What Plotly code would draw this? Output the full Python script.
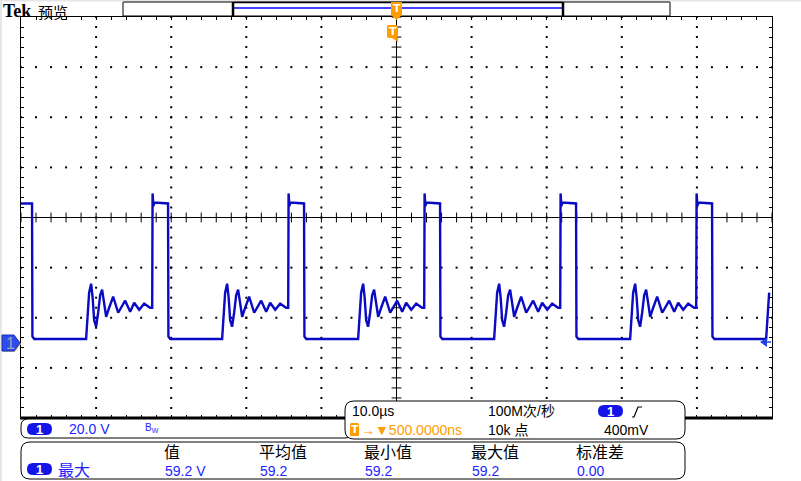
import plotly.graph_objects as go

# ---------------- data (read from the screen) ----------------
# falling-edge times of the square wave (µs, screen centre = 0)
fall_times = [-48.53, -30.42, -12.31, 5.80, 23.91, 42.02]
# one cycle, relative to its falling edge: time (µs) and voltage (V)
cycle_t = [0.00, 0.05, 0.3, 7.20, 7.40, 7.60, 7.87, 8.07, 8.27, 8.53, 8.80, 9.07,
           9.33, 9.60, 9.87, 10.27, 10.80, 11.47, 12.40, 13.07, 13.60, 14.27,
           14.93, 15.73, 16.00, 16.05, 16.15, 16.30, 18.05]
cycle_v = [55.6, 2.5, 1.5, 1.5, 10.0, 20.0, 23.6, 18.0, 9.0, 6.4, 12.0, 19.0,
           21.2, 15.0, 10.4, 14.0, 18.4, 12.0, 16.8, 12.4, 16.0, 13.2,
           15.6, 14.0, 14.0, 59.6, 54.5, 56.0, 55.6]
lead_t = [-50.0]          # trace start before first edge
lead_v = [55.6]
trace_end = 49.85

x_range = [-50, 50]       # 10 div x 10 µs
y_range = [-30, 130]      # 8 div x 20 V, ground 2.5 div below centre
x_div, y_div = 10, 20

hdr_labels = ["值", "平均值", "最小值", "最大值", "标准差"]
row_values = ["59.2 V", "59.2", "59.2", "59.2", "0.00"]
col_x = [163, 258, 363, 470, 575]

# ---------------- build waveform ----------------
wt, wv = list(lead_t), list(lead_v)
for f in fall_times:
    for t, v in zip(cycle_t, cycle_v):
        if f + t <= trace_end:
            wt.append(f + t)
            wv.append(v)

W, H = 801, 481
L, R, T, B = 21, 772, 17, 418


def px(x):
    return (x - L) / (R - L)


def py(y):
    return (B - y) / (B - T)


def rrect_path(x0, y0, x1, y1, r):
    return (f"M {px(x0+r)},{py(y0)} L {px(x1-r)},{py(y0)} Q {px(x1)},{py(y0)} {px(x1)},{py(y0+r)} "
            f"L {px(x1)},{py(y1-r)} Q {px(x1)},{py(y1)} {px(x1-r)},{py(y1)} "
            f"L {px(x0+r)},{py(y1)} Q {px(x0)},{py(y1)} {px(x0)},{py(y1-r)} "
            f"L {px(x0)},{py(y0+r)} Q {px(x0)},{py(y0)} {px(x0+r)},{py(y0)} Z")


def poly_path(pts, close=True):
    s = "M " + " L ".join(f"{px(a)},{py(b)}" for a, b in pts)
    return s + (" Z" if close else "")


fig = go.Figure()

# graticule dots
gx, gy = [], []
minor_x = [x_range[0] + i * x_div / 5 for i in range(51)]
minor_y = [y_range[0] + i * y_div / 5 for i in range(41)]
major_x = [x_range[0] + i * x_div for i in range(1, 10)]
major_y = [y_range[0] + i * y_div for i in range(1, 8)]
cx, cy = 0, 50
for xm in major_x:
    if xm == cx:
        continue
    for ym in minor_y:
        gx.append(xm); gy.append(ym)
for ym in major_y:
    if ym == cy:
        continue
    for xm in minor_x:
        gx.append(xm); gy.append(ym)
fig.add_trace(go.Scatter(x=gx, y=gy, mode="markers", hoverinfo="skip",
                         marker=dict(symbol="square", size=2, color="#000", line=dict(width=0))))
# centre cross ticks
fig.add_trace(go.Scatter(x=minor_x, y=[cy] * len(minor_x), mode="markers", hoverinfo="skip",
                         marker=dict(symbol="line-ns", size=7, line=dict(width=1, color="#000"))))
fig.add_trace(go.Scatter(x=[cx] * len(minor_y), y=minor_y, mode="markers", hoverinfo="skip",
                         marker=dict(symbol="line-ew", size=7, line=dict(width=1, color="#000"))))

# waveform
fig.add_trace(go.Scatter(x=wt, y=wv, mode="lines", hoverinfo="skip",
                         line=dict(color="#0a0ac4", width=2.4)))

shapes = []
# centre cross lines
shapes.append(dict(type="line", xref="x", yref="paper", x0=cx, x1=cx, y0=0, y1=1,
                   line=dict(color="#000", width=1), layer="below"))
shapes.append(dict(type="line", xref="paper", yref="y", x0=0, x1=1, y0=cy, y1=cy,
                   line=dict(color="#000", width=1), layer="below"))
# thick bottom border
shapes.append(dict(type="line", xref="paper", yref="paper", x0=px(L - 1), x1=px(R + 1), y0=py(B), y1=py(B),
                   line=dict(color="#000", width=3)))
# left & top grey strips
shapes.append(dict(type="rect", xref="paper", yref="paper", x0=px(0), x1=px(2), y0=py(0), y1=py(H),
                   fillcolor="#e6e6e6", line=dict(width=0)))
shapes.append(dict(type="rect", xref="paper", yref="paper", x0=px(0), x1=px(W), y0=py(0), y1=py(1.5),
                   fillcolor="#e6e6e6", line=dict(width=0)))
# record view box
shapes.append(dict(type="rect", xref="paper", yref="paper", x0=px(123), x1=px(670), y0=py(16), y1=py(2),
                   fillcolor="#fff", line=dict(color="#000", width=1)))
shapes.append(dict(type="line", xref="paper", yref="paper", x0=px(123), x1=px(670), y0=py(2), y1=py(2),
                   line=dict(color="#7a7a7a", width=1.5)))
shapes.append(dict(type="line", xref="paper", yref="paper", x0=px(233), x1=px(563), y0=py(8), y1=py(8),
                   line=dict(color="#0000ff", width=1.5)))
for bx in (233, 563):
    shapes.append(dict(type="line", xref="paper", yref="paper", x0=px(bx), x1=px(bx), y0=py(2), y1=py(16),
                       line=dict(color="#000", width=2.5)))
shapes.append(dict(type="line", xref="paper", yref="paper", x0=px(233), x1=px(563), y0=py(2.5), y1=py(2.5),
                   line=dict(color="#000", width=1.5)))
# trigger markers (orange)
OR = "#ff9c00"
shapes.append(dict(type="path", xref="paper", yref="paper",
                   path=poly_path([(391, 2), (402, 2), (402, 15), (396.5, 20), (391, 15)]),
                   fillcolor=OR, line=dict(width=0)))
shapes.append(dict(type="path", xref="paper", yref="paper", path=rrect_path(387, 25, 398, 38, 2),
                   fillcolor=OR, line=dict(width=0)))
shapes.append(dict(type="path", xref="paper", yref="paper",
                   path=poly_path([(392, 38), (398, 38), (398, 42)]), fillcolor=OR, line=dict(width=0)))
# ground marker on the left
shapes.append(dict(type="path", xref="paper", yref="paper",
                   path=poly_path([(3, 336), (15, 336), (21, 344), (15, 352), (3, 352)]),
                   fillcolor="#d2c890", line=dict(width=0)))
shapes.append(dict(type="path", xref="paper", yref="paper",
                   path=poly_path([(2, 335), (14, 335), (20, 343), (14, 351), (2, 351)]),
                   fillcolor="#2c4cf0", line=dict(color="#1830b0", width=1)))
# right-side little arrow
shapes.append(dict(type="path", xref="paper", yref="paper",
                   path=poly_path([(760, 342), (767, 338), (767, 347)]),
                   fillcolor="#2040e0", line=dict(width=0)))
shapes.append(dict(type="line", xref="paper", yref="paper", x0=px(764), x1=px(771), y0=py(342), y1=py(342),
                   line=dict(color="#2040e0", width=1.5)))

# info panels
shapes.append(dict(type="path", xref="paper", yref="paper", path=rrect_path(21, 419, 352, 438, 7),
                   fillcolor="#fff", line=dict(color="#000", width=1)))
shapes.append(dict(type="path", xref="paper", yref="paper", path=rrect_path(345, 401, 685, 439, 9),
                   fillcolor="#fff", line=dict(color="#000", width=1)))
shapes.append(dict(type="path", xref="paper", yref="paper", path=rrect_path(21, 442, 685, 479, 9),
                   fillcolor="#fff", line=dict(color="#000", width=1)))
# pills
BL = "#1414e6"
for (x0, y0, x1, y1) in [(27, 423, 52, 435), (598, 405, 623, 417), (27, 463, 52, 475)]:
    shapes.append(dict(type="path", xref="paper", yref="paper", path=rrect_path(x0, y0, x1, y1, 6),
                       fillcolor=BL, line=dict(width=0)))
# orange T box in panel B
shapes.append(dict(type="path", xref="paper", yref="paper", path=rrect_path(350, 423, 359, 436, 1.5),
                   fillcolor=OR, line=dict(width=0)))
# slope symbol
shapes.append(dict(type="path", xref="paper", yref="paper",
                   path=poly_path([(632, 417), (634, 417), (638, 407), (642, 407)], close=False),
                   line=dict(color="#000", width=1.2)))

fig.update_layout(shapes=shapes)

ann = []
SANS = "Liberation Sans, Noto Sans CJK SC"
CJK = "Noto Sans CJK SC"
TXT_BLUE = "#1e1eff"


def text(x, y, s, size=14, color="#000", family=SANS, anchor="left"):
    ann.append(dict(xref="paper", yref="paper", x=px(x), y=py(y), text=s, showarrow=False,
                    xanchor=anchor, yanchor="middle", font=dict(size=size, color=color, family=family)))


text(1, 10.5, "<b>Tek</b>", size=18, family="Liberation Serif")
text(36, 11, "预览", size=15, family=CJK)
text(396.5, 9, "<b>T</b>", size=11, color="#fff", family="DejaVu Sans", anchor="center")
text(392.5, 31.5, "<b>T</b>", size=11, color="#fff", family="DejaVu Sans", anchor="center")
text(10, 343, "1", size=16, color="#9aa2b6", family="Liberation Sans", anchor="center")

# panel A
text(39.5, 429, "<b>1</b>", size=13, color="#fff", anchor="center")
text(67, 429, "20.0 V", color=TXT_BLUE)
text(143, 428, "B<sub>W</sub>", size=10, color=TXT_BLUE)
# panel B
text(350, 411, "10.0µs")
text(486, 411, "100M次/秒")
text(610.5, 411, "<b>1</b>", size=13, color="#fff", anchor="center")
text(354.5, 429.5, "<b>T</b>", size=11, color="#fff", family="DejaVu Sans", anchor="center")
text(359, 430, "→▼500.0000ns", color=OR)
text(486, 430, "10k 点")
text(602, 430, "400mV")
# panel C
for lbl, xx in zip(hdr_labels, col_x):
    text(xx - 1, 451, lbl, size=16, family=CJK)
for val, xx in zip(row_values, col_x):
    text(xx, 471, val, color=TXT_BLUE)
text(39.5, 469, "<b>1</b>", size=13, color="#fff", anchor="center")
text(56, 469, "最大", size=16, color=TXT_BLUE, family=CJK)

fig.update_layout(annotations=ann)

axis_common = dict(showgrid=False, zeroline=False, showticklabels=False, showline=True,
                   linecolor="#000", linewidth=1, mirror="ticks", ticks="inside",
                   ticklen=3, tickcolor="#000", tickwidth=1, fixedrange=True)
fig.update_xaxes(range=x_range, tick0=x_range[0], dtick=x_div / 5, **axis_common)
fig.update_yaxes(range=y_range, tick0=y_range[0], dtick=y_div / 5, **axis_common)

fig.update_layout(width=W, height=H, margin=dict(l=L, r=W - R, t=T, b=H - B, pad=0),
                  paper_bgcolor="#fff", plot_bgcolor="#fff", showlegend=False)

fig.write_html("out.html", config={"displayModeBar": False},
               post_script="document.body.style.margin='0';document.body.style.padding='0';")
